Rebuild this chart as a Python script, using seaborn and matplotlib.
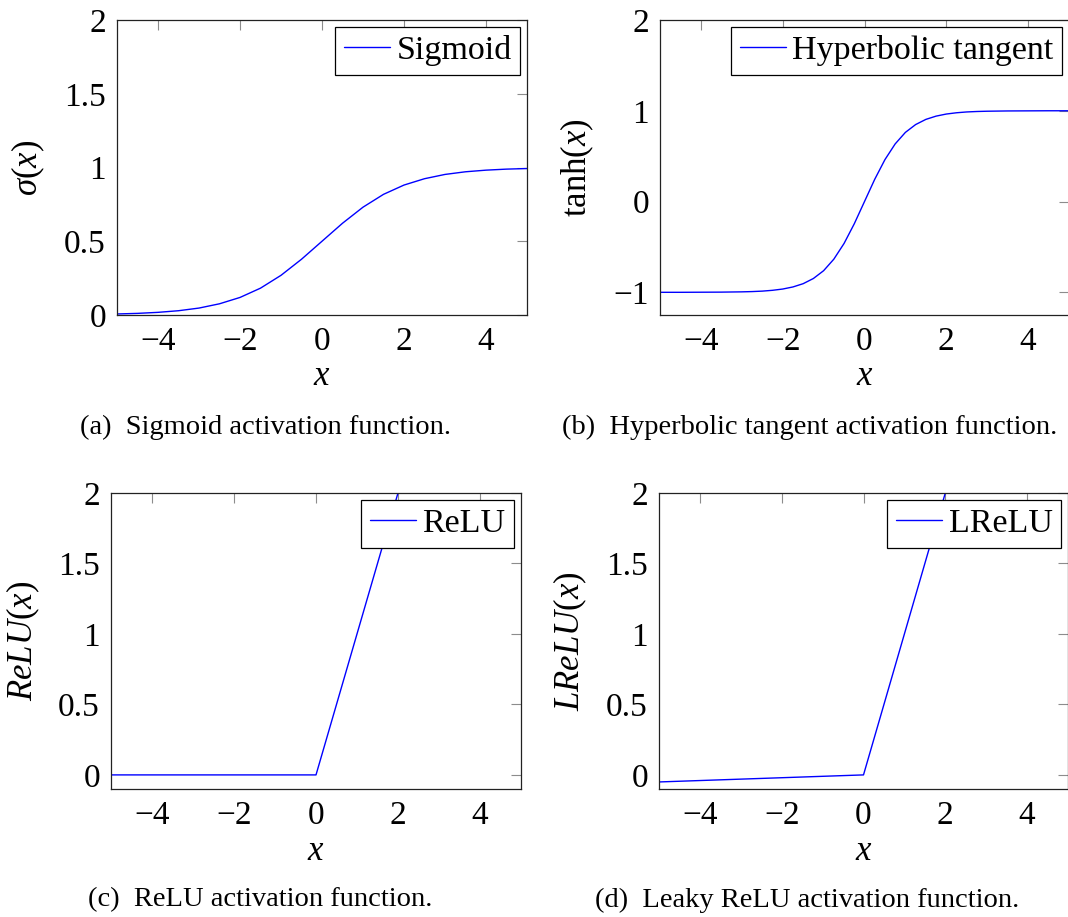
"""
Activation functions (sigmoid, tanh, ReLU, leaky ReLU) in a 2x2 grid.
"""

import numpy as np
import matplotlib
matplotlib.use('Agg')
import matplotlib.pyplot as plt
import seaborn as sns

x_sig = [-5.0, -4.5, -4.0, -3.5, -3.0, -2.5, -2.0, -1.5, -1.0, -0.5, 0.0,
         0.5, 1.0, 1.5, 2.0, 2.5, 3.0, 3.5, 4.0, 4.5, 5.0]
sigmoid_y = [0.007, 0.011, 0.018, 0.029, 0.047, 0.076, 0.119, 0.182, 0.269,
             0.378, 0.500, 0.622, 0.731, 0.818, 0.881, 0.924, 0.953, 0.971,
             0.982, 0.989, 0.993]

x_tanh = [-5.0, -4.5, -4.0, -3.5, -3.0, -2.75, -2.5, -2.25, -2.0, -1.75, -1.5,
          -1.25, -1.0, -0.75, -0.5, -0.25, 0.0, 0.25, 0.5, 0.75, 1.0, 1.25,
          1.5, 1.75, 2.0, 2.25, 2.5, 2.75, 3.0, 3.5, 4.0, 4.5, 5.0]
tanh_y = [-1.000, -1.000, -0.999, -0.998, -0.995, -0.992, -0.987, -0.978,
          -0.964, -0.941, -0.905, -0.848, -0.762, -0.635, -0.462, -0.245,
          0.000, 0.245, 0.462, 0.635, 0.762, 0.848, 0.905, 0.941, 0.964,
          0.978, 0.987, 0.992, 0.995, 0.998, 0.999, 1.000, 1.000]

x_relu = [-5.0, 0.0, 2.0]
relu_y = [0.0, 0.0, 2.0]
lrelu_y = [-0.05, 0.0, 2.0]

x_ticks = [-4, -2, 0, 2, 4]
y_ticks_01 = [0, 0.5, 1, 1.5, 2]
y_ticks_tanh = [-1, 0, 1, 2]

panels = [
    # x, y, legend, ylabel, ylim, yticks, caption, axes rect (px), ylabel x, caption centre (px)
    (x_sig, sigmoid_y, 'Sigmoid', r'$\sigma(x)$', (0, 2), y_ticks_01,
     '(a)  Sigmoid activation function.', (117, 20, 527, 315), -0.217, 265, 427),
    (x_tanh, tanh_y, 'Hyperbolic tangent', r'$\tanh(x)$', (-1.25, 2), y_ticks_tanh,
     '(b)  Hyperbolic tangent activation function.', (660, 20, 1069, 315), -0.203, 810, 427),
    (x_relu, relu_y, 'ReLU', r'$ReLU(x)$', (-0.1, 2), y_ticks_01,
     '(c)  ReLU activation function.', (111, 493, 521, 789), -0.215, 260, 900),
    (x_relu, lrelu_y, 'LReLU', r'$LReLU(x)$', (-0.1, 2), y_ticks_01,
     '(d)  Leaky ReLU activation function.', (659, 493, 1068, 789), -0.218, 807, 900),
]

W, H = 1068, 917


def fmt(v):
    return f'{v:g}'.replace('-', '\u2212')


sns.set_style('white')
plt.rcParams['font.family'] = ['Liberation Serif', 'DejaVu Serif']
plt.rcParams['mathtext.fontset'] = 'custom'
plt.rcParams['mathtext.rm'] = 'Liberation Serif'
plt.rcParams['mathtext.it'] = 'Liberation Serif:italic'
plt.rcParams['text.color'] = 'black'
plt.rcParams['axes.labelcolor'] = 'black'

fig = plt.figure(figsize=(W / 100, H / 100), dpi=100)

for xs, ys, name, ylab, ylim, yticks, caption, (l, t, r, b), ylx, cx, cy in panels:
    ax = fig.add_axes([l / W, (H - b) / H, (r - l) / W, (b - t) / H])
    sns.lineplot(x=xs, y=ys, ax=ax, color='blue', linewidth=1.0,
                 label=name, estimator=None, sort=False)
    ax.set_xlim(-5, 5)
    ax.set_ylim(*ylim)
    ax.set_xticks(x_ticks, labels=[fmt(v) for v in x_ticks])
    ax.set_yticks(yticks, labels=[fmt(v) for v in yticks])
    ax.tick_params(direction='in', top=True, right=True, length=7, width=0.8,
                   color='#8c8c8c', labelcolor='black', labelsize=24, pad=8)
    for s in ax.spines.values():
        s.set_color('#222222')
        s.set_linewidth(0.9)

    ax.set_xlabel(r'$x$', fontsize=25)
    ax.set_ylabel(ylab, fontsize=25)
    ax.xaxis.label.set_va('center')
    ax.yaxis.label.set_va('center')
    ax.xaxis.set_label_coords(0.5, -0.21)
    ax.yaxis.set_label_coords(ylx, 0.5)

    leg = ax.legend(loc='upper right', fontsize=24.5, frameon=True, fancybox=False,
                    framealpha=1, edgecolor='black', borderaxespad=0.2,
                    handlelength=1.35, handletextpad=0.2, borderpad=0.25)
    leg.get_frame().set_linewidth(0.9)

    fig.text(cx / W, 1 - cy / H, caption, ha='center', va='center', fontsize=20.5)

plt.savefig('out.png', dpi=100)
plt.close()
